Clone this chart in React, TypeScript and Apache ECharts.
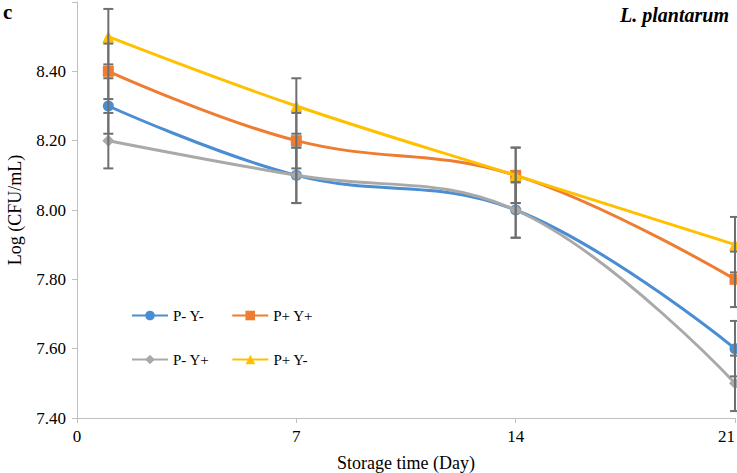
import React, { useEffect, useRef } from "react";
import * as echarts from "echarts";

const days = [1, 7, 14, 21];
const seriesNames = ["P- Y-", "P+ Y+", "P- Y+", "P+ Y-"];
const pmYm = [8.3, 8.1, 8.0, 7.6];
const ppYp = [8.4, 8.2, 8.1, 7.8];
const pmYp = [8.2, 8.1, 8.0, 7.5];
const ppYm = [8.5, 8.3, 8.1, 7.9];
const errPmYm = [0.08, 0.08, 0.08, 0.08];
const errPpYp = [0.08, 0.08, 0.08, 0.08];
const errPmYp = [0.08, 0.08, 0.08, 0.08];
const errPpYm = [0.08, 0.08, 0.08, 0.08];
const xTicks = [0, 7, 14, 21];
const yTicks = [7.4, 7.6, 7.8, 8.0, 8.2, 8.4];

const colors = ["#4a8dd3", "#ee7d31", "#a9a9a9", "#ffc000"];
const symbols = ["circle", "rect", "diamond", "triangle"];
const symbolSizes = [11, 11, 12, 12];
const values = [pmYm, ppYp, pmYp, ppYm];
const errors = [errPmYm, errPpYp, errPmYp, errPpYm];

const FONT = "'Liberation Serif', 'Times New Roman', serif";

export default function App() {
  const ref = useRef<HTMLDivElement>(null);
  useEffect(() => {
    if (!ref.current) return;
    const chart = echarts.init(ref.current, null, { renderer: "svg" });

    const lineSeries = values.map((vals, i) => ({
      name: seriesNames[i],
      type: "line",
      data: vals.map((v, j) => [days[j], v]),
      smooth: 0.4,
      symbol: symbols[i],
      symbolSize: symbolSizes[i],
      lineStyle: { color: colors[i], width: 3 },
      itemStyle: { color: colors[i] },
      z: 2 + i,
    }));

    const errSeries = values.map((vals, i) => ({
      name: seriesNames[i] + " err",
      type: "custom",
      data: vals.map((v, j) => [days[j], v - errors[i][j], v + errors[i][j]]),
      encode: { x: 0, y: [1, 2] },
      z: 10,
      renderItem: (params: any, api: any) => {
        const x = api.value(0);
        const lo = api.coord([x, api.value(1)]);
        const hi = api.coord([x, api.value(2)]);
        const hw = 5;
        const style = { stroke: "#6f6f6f", lineWidth: 2 };
        return {
          type: "group",
          children: [
            { type: "line", shape: { x1: lo[0], y1: lo[1], x2: hi[0], y2: hi[1] }, style },
            { type: "line", shape: { x1: lo[0] - hw, y1: lo[1], x2: lo[0] + hw, y2: lo[1] }, style },
            { type: "line", shape: { x1: hi[0] - hw, y1: hi[1], x2: hi[0] + hw, y2: hi[1] }, style },
          ],
        };
      },
    }));

    const legendCommon = {
      itemWidth: 36,
      itemHeight: 12,
      textStyle: { fontFamily: FONT, fontSize: 15, color: "#000" },
    };

    chart.setOption({
      animation: false,
      backgroundColor: "#fff",
      grid: { left: 77, right: 2, top: 2, bottom: 55, outerBoundsMode: "none", containLabel: false },
      xAxis: {
        type: "value",
        min: 0,
        max: 21,
        interval: 7,
        name: "Storage time (Day)",
        nameLocation: "middle",
        nameGap: 36,
        nameTextStyle: { fontFamily: FONT, fontSize: 18, color: "#000" },
        axisLine: { lineStyle: { color: "#bfbfbf", width: 1 } },
        axisTick: { show: true, length: 5, lineStyle: { color: "#bfbfbf" } },
        axisLabel: {
          fontFamily: FONT,
          fontSize: 17,
          color: "#000",
          margin: 10,
          alignMaxLabel: "right",
          formatter: (v: number) => (xTicks.includes(v) ? String(v) : ""),
        },
        splitLine: { show: false },
      },
      yAxis: {
        type: "value",
        min: 7.4,
        max: 8.6,
        interval: 0.2,
        name: "Log (CFU/mL)",
        nameLocation: "middle",
        nameGap: 53,
        nameTextStyle: { fontFamily: FONT, fontSize: 18, color: "#000" },
        axisLine: { show: true, lineStyle: { color: "#bfbfbf", width: 1 } },
        axisTick: { show: true, length: 5, lineStyle: { color: "#bfbfbf" } },
        axisLabel: {
          fontFamily: FONT,
          fontSize: 17,
          color: "#000",
          margin: 11,
          formatter: (v: number) =>
            yTicks.some((t) => Math.abs(t - v) < 1e-6) ? v.toFixed(2) : "",
        },
        splitLine: { show: false },
      },
      legend: [
        { ...legendCommon, itemGap: 27, left: 126, top: 303, data: [seriesNames[0], seriesNames[1]] },
        { ...legendCommon, itemGap: 22, left: 126, top: 347, data: [seriesNames[2], seriesNames[3]] },
      ],
      graphic: [
        {
          type: "text",
          left: 3,
          top: 1,
          style: { text: "c", font: `bold 21px ${FONT}`, fill: "#000" },
        },
        {
          type: "text",
          right: 8,
          top: 5,
          style: { text: "L. plantarum", font: `italic bold 20px ${FONT}`, fill: "#000" },
        },
      ],
      series: [...lineSeries, ...errSeries],
    });

    return () => chart.dispose();
  }, []);

  return <div ref={ref} style={{ width: 737, height: 473, position: "fixed", left: 0, top: 0 }} />;
}
